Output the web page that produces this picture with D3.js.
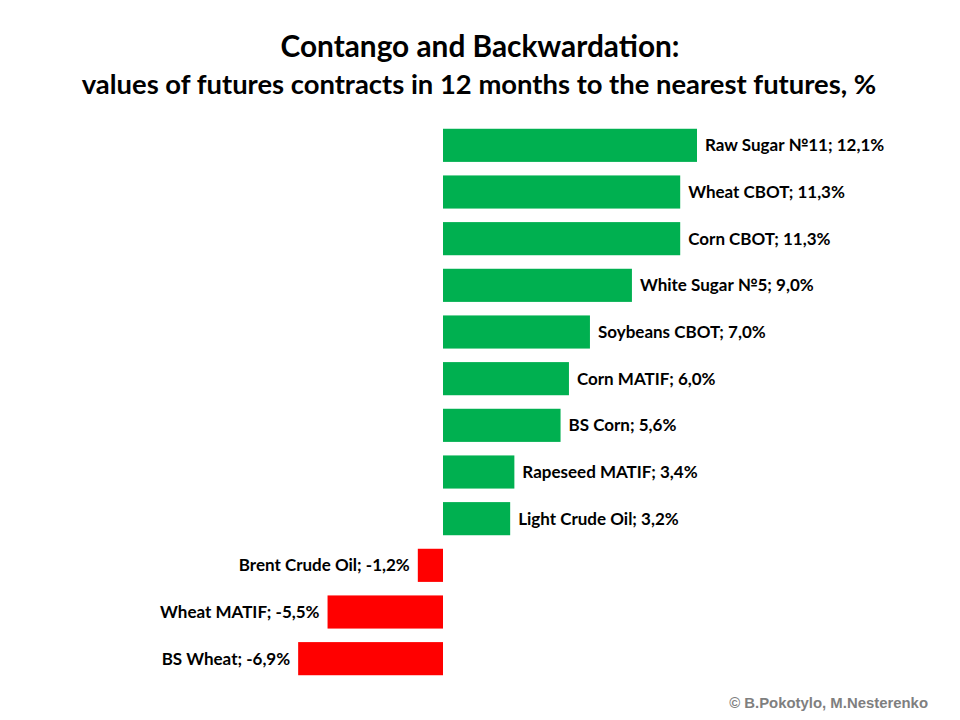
<!DOCTYPE html>
<html><head><meta charset="utf-8">
<script src="https://cdn.jsdelivr.net/npm/d3@7"></script>
<style>body{margin:0;background:#fff}</style>
</head><body>
<svg id="c" width="960" height="720"></svg>
<script>
const categories = ["Raw Sugar №11","Wheat CBOT","Corn CBOT","White Sugar №5","Soybeans CBOT","Corn MATIF","BS Corn","Rapeseed MATIF","Light Crude Oil","Brent Crude Oil","Wheat MATIF","BS Wheat"];
const values = [12.1,11.3,11.3,9.0,7.0,6.0,5.6,3.4,3.2,-1.2,-5.5,-6.9];
const labels = ["12,1%","11,3%","11,3%","9,0%","7,0%","6,0%","5,6%","3,4%","3,2%","-1,2%","-5,5%","-6,9%"];

const svg = d3.select("#c");
const font = "Lato, 'Open Sans', sans-serif";
const x = d3.scaleLinear().domain([0, 12.1]).range([443, 697]);
const y = d3.scaleBand().domain(categories).range([122, 682]).paddingInner(0.29).paddingOuter(0.145);

svg.append("text").attr("x",480).attr("y",57).attr("text-anchor","middle")
  .attr("font-family",font).attr("font-weight","bold").attr("font-size",29.8).attr("fill","#000")
  .text("Contango and Backwardation:");
svg.append("text").attr("x",479).attr("y",94).attr("text-anchor","middle")
  .attr("font-family",font).attr("font-weight","bold").attr("font-size",27.4).attr("fill","#000")
  .text("values of futures contracts in 12 months to the nearest futures, %");

const data = categories.map((c,i)=>({c, v:values[i], l:labels[i]}));
svg.selectAll("rect.bar").data(data).enter().append("rect").attr("class","bar")
  .attr("x",d=>x(Math.min(0,d.v))).attr("width",d=>Math.abs(x(d.v)-x(0)))
  .attr("y",d=>y(d.c)).attr("height",y.bandwidth())
  .attr("fill",d=>d.v>=0?"#00B050":"#FF0000");

svg.selectAll("text.lbl").data(data).enter().append("text").attr("class","lbl")
  .attr("x",d=>d.v>=0? x(d.v)+8 : x(d.v)-8)
  .attr("y",d=>y(d.c)+y.bandwidth()/2).attr("dy","0.35em")
  .attr("text-anchor",d=>d.v>=0?"start":"end")
  .attr("font-family",font).attr("font-weight","bold").attr("font-size",17).attr("fill","#000")
  .text(d=>d.c+"; "+d.l);

svg.append("text").attr("x",928).attr("y",708).attr("text-anchor","end")
  .attr("font-family","'Liberation Sans', Arial, sans-serif").attr("font-weight","bold").attr("font-size",14.9).attr("fill","#7f7f7f")
  .text("© B.Pokotylo, M.Nesterenko");
</script>
</body></html>
